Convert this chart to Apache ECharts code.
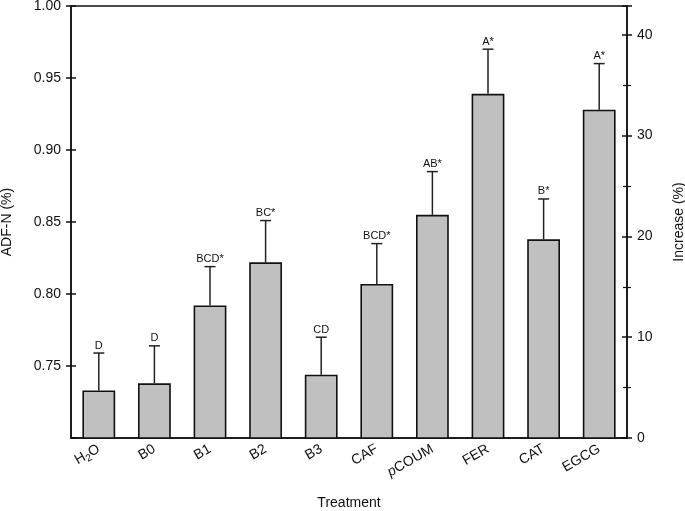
<!DOCTYPE html>
<html>
<head>
<meta charset="utf-8">
<script src="https://cdn.jsdelivr.net/npm/echarts@6/dist/echarts.min.js"></script>
<style>html,body{margin:0;padding:0;background:#fff;}#c{width:685px;height:511px;}</style>
</head>
<body>
<div id="c"></div>
<script>
var categories = ['H2O', 'B0', 'B1', 'B2', 'B3', 'CAF', 'pCOUM', 'FER', 'CAT', 'EGCG'];
var means = [0.733, 0.738, 0.792, 0.822, 0.744, 0.807, 0.855, 0.939, 0.838, 0.928];
var errors = [0.026, 0.026, 0.027, 0.029, 0.026, 0.028, 0.030, 0.031, 0.028, 0.032];
var letters = ['D', 'D', 'BCD*', 'BC*', 'CD', 'BCD*', 'AB*', 'A*', 'B*', 'A*'];
var leftMin = 0.70, leftMax = 1.00, leftStep = 0.05;
var rightMin = 0, rightMax = (leftMax / leftMin - 1) * 100, rightStep = 10;

var FONT = 'Liberation Sans';
var chart = echarts.init(document.getElementById('c'), null, {renderer: 'canvas'});

var errData = categories.map(function (c, i) { return [i, means[i], means[i] + errors[i], letters[i]]; });

function labelFmt(v) {
  if (v === 'H2O') return '{n|H}{s|2}{n|O}';
  if (v === 'pCOUM') return '{i|p}{n|COUM}';
  return '{n|' + v + '}';
}

var yCommon = {
  type: 'value', splitLine: {show: false}
};

chart.setOption({
  animation: false,
  grid: {left: 71, right: 58, top: 6, bottom: 73, show: true, borderColor: '#111', borderWidth: 1.5, backgroundColor: 'transparent',
    containLabel: false, outerBoundsMode: 'none'},
  xAxis: {
    type: 'category', data: categories,
    name: 'Treatment', nameLocation: 'middle', nameGap: 58,
    nameTextStyle: {fontFamily: FONT, fontSize: 14, color: '#111'},
    axisLine: {lineStyle: {color: '#111', width: 1.5}},
    axisTick: {alignWithLabel: true, length: 8, lineStyle: {color: '#111', width: 1.5}},
    axisLabel: {
      rotate: 30, margin: 10, color: '#111', fontFamily: FONT, fontSize: 14,
      formatter: labelFmt,
      rich: {
        n: {fontFamily: FONT, fontSize: 14, color: '#111', lineHeight: 18},
        s: {fontFamily: FONT, fontSize: 10, color: '#111', lineHeight: 10, verticalAlign: 'bottom'},
        i: {fontFamily: FONT, fontSize: 14, color: '#111', fontStyle: 'italic', lineHeight: 18}
      }
    }
  },
  yAxis: [
    Object.assign({}, yCommon, {
      position: 'left', min: leftMin, max: leftMax, interval: leftStep,
      name: 'ADF-N (%)', nameLocation: 'middle', nameGap: 57, nameRotate: 90,
      nameTextStyle: {fontFamily: FONT, fontSize: 14, color: '#111'},
      axisLine: {show: true, lineStyle: {color: '#111', width: 1.5}},
      axisTick: {show: true, length: 5, lineStyle: {color: '#111', width: 1.5}},
      axisLabel: {margin: 10, color: '#111', fontFamily: FONT, fontSize: 14, showMinLabel: false,
        formatter: function (v) { return Math.abs(v - leftMin) < 1e-6 ? '' : v.toFixed(2); }}
    }),
    Object.assign({}, yCommon, {
      position: 'right', min: rightMin, max: rightMax, interval: rightStep,
      name: 'Increase (%)', nameLocation: 'middle', nameGap: 45, nameRotate: 90,
      nameTextStyle: {fontFamily: FONT, fontSize: 14, color: '#111'},
      axisLine: {show: true, lineStyle: {color: '#111', width: 1.5}},
      axisTick: {show: true, length: 5, lineStyle: {color: '#111', width: 1.5}},
      minorTick: {show: true, splitNumber: 2, length: 4, lineStyle: {color: '#111', width: 1.2}},
      axisLabel: {margin: 10, color: '#111', fontFamily: FONT, fontSize: 14, showMaxLabel: false,
        formatter: function (v) { return Math.abs(v % rightStep) < 1e-6 ? String(Math.round(v)) : ''; }}
    }),
    Object.assign({}, yCommon, {
      position: 'left', min: leftMin, max: leftMax, interval: leftStep,
      axisLine: {show: false}, axisLabel: {show: false},
      axisTick: {show: true, inside: true, length: 5, lineStyle: {color: '#111', width: 1.5}}
    }),
    Object.assign({}, yCommon, {
      position: 'right', min: rightMin, max: rightMax, interval: rightStep,
      axisLine: {show: false}, axisLabel: {show: false},
      axisTick: {show: true, inside: true, length: 5, lineStyle: {color: '#111', width: 1.5}},
      minorTick: {show: true, splitNumber: 2, length: 4, lineStyle: {color: '#111', width: 1.2}}
    })
  ],
  series: [
    {
      type: 'bar', yAxisIndex: 0, data: means, barWidth: '59%',
      itemStyle: {color: '#c0c0c0', borderColor: '#111', borderWidth: 1.6},
      z: 2
    },
    {
      type: 'custom', yAxisIndex: 0, data: errData, z: 3,
      renderItem: function (params, api) {
        var x = api.value(0);
        var top = api.coord([x, api.value(1)]);
        var hi = api.coord([x, api.value(2)]);
        var half = 5.5;
        return {
          type: 'group',
          children: [
            {type: 'line', shape: {x1: top[0], y1: top[1], x2: hi[0], y2: hi[1]}, style: {stroke: '#222', lineWidth: 1.5}},
            {type: 'line', shape: {x1: hi[0] - half, y1: hi[1], x2: hi[0] + half, y2: hi[1]}, style: {stroke: '#222', lineWidth: 1.5}},
            {type: 'text', x: hi[0], y: hi[1] - 2, style: {text: api.value(3), fontFamily: FONT, fontSize: 11, fill: '#111', align: 'center', verticalAlign: 'bottom'}}
          ]
        };
      }
    }
  ]
});
</script>
</body>
</html>
